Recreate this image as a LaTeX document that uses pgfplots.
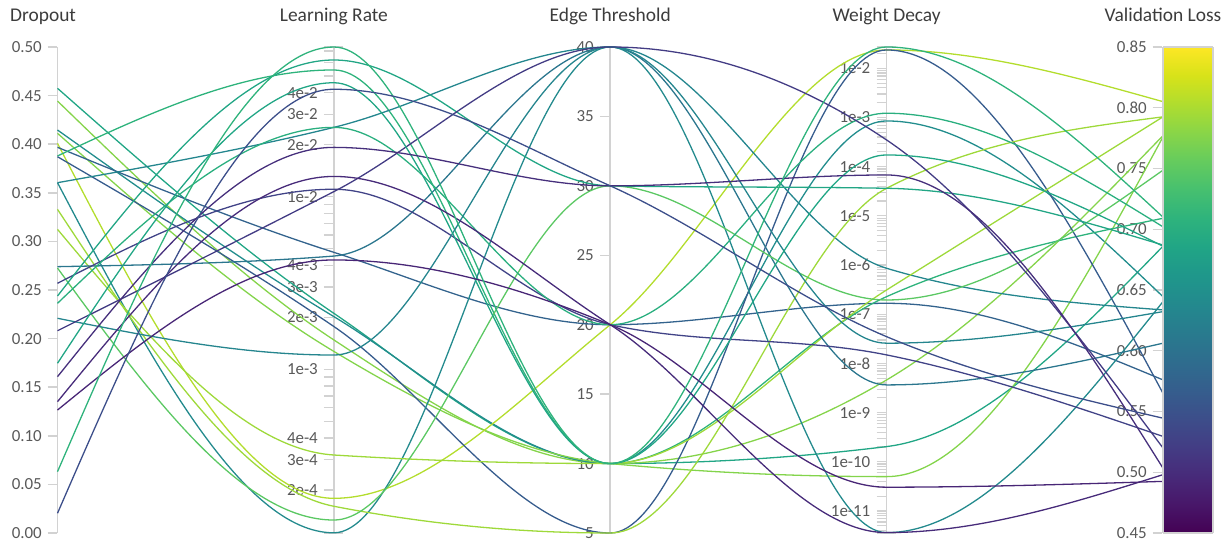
\documentclass[border=0pt]{standalone}
\usepackage{pgfplots}
\pgfplotsset{compat=1.18}
\usepackage{pgfplotstable}
\usepackage{fontspec}
\setmainfont{Carlito}

\definecolor{tickgray}{HTML}{595959}
\definecolor{titlegray}{HTML}{3C3C3C}
\definecolor{axisgray}{HTML}{D2D2D2}
\newcommand\ticksize{\fontsize{17}{19}\selectfont}
\newcommand\titlesize{\fontsize{19.5}{22}\selectfont}

% ---------- monotone-x curve plot handler (like d3.curveMonotoneX) ----------
\makeatletter
\newcount\mono@n
\def\mono@cs#1#2{\csname mono@#1#2\endcsname}
\def\mono@start{\global\mono@n=0\relax}
\def\mono@point#1{%
  \pgf@process{#1}%
  \global\advance\mono@n by 1\relax
  \expandafter\xdef\csname mono@x\the\mono@n\endcsname{\pgf@sys@tonumber\pgf@x}%
  \expandafter\xdef\csname mono@y\the\mono@n\endcsname{\pgf@sys@tonumber\pgf@y}%
}
\def\mono@end{\ifnum\mono@n>2\relax\mono@compute\fi}
\def\mono@compute{%
  \pgfmathtruncatemacro\mono@Nm{\the\mono@n-1}%
  \foreach \mono@i in {1,...,\mono@Nm}{%
    \pgfmathtruncatemacro\mono@j{\mono@i+1}%
    \pgfmathsetmacro\mono@hh{(\mono@cs{x}{\mono@j})-(\mono@cs{x}{\mono@i})}%
    \pgfmathsetmacro\mono@ss{((\mono@cs{y}{\mono@j})-(\mono@cs{y}{\mono@i}))/\mono@hh}%
    \expandafter\xdef\csname mono@h\mono@i\endcsname{\mono@hh}%
    \expandafter\xdef\csname mono@s\mono@i\endcsname{\mono@ss}%
  }%
  \foreach \mono@i in {2,...,\mono@Nm}{%
    \pgfmathtruncatemacro\mono@k{\mono@i-1}%
    \edef\mono@sa{\mono@cs{s}{\mono@k}}%
    \edef\mono@sb{\mono@cs{s}{\mono@i}}%
    \edef\mono@ha{\mono@cs{h}{\mono@k}}%
    \edef\mono@hb{\mono@cs{h}{\mono@i}}%
    \pgfmathsetmacro\mono@p{((\mono@sa)*(\mono@hb)+(\mono@sb)*(\mono@ha))/((\mono@ha)+(\mono@hb))}%
    \pgfmathsetmacro\mono@tv{(sign(\mono@sa)+sign(\mono@sb))*min(abs(\mono@sa),abs(\mono@sb),0.5*abs(\mono@p))}%
    \expandafter\xdef\csname mono@t\mono@i\endcsname{\mono@tv}%
  }%
  \pgfmathsetmacro\mono@tv{(3*(\mono@cs{s}{1})-(\mono@cs{t}{2}))/2}%
  \expandafter\xdef\csname mono@t1\endcsname{\mono@tv}%
  \pgfmathsetmacro\mono@tv{(3*(\mono@cs{s}{\mono@Nm})-(\mono@cs{t}{\mono@Nm}))/2}%
  \expandafter\xdef\csname mono@t\the\mono@n\endcsname{\mono@tv}%
  \xdef\mono@path{\noexpand\pgfpathmoveto{\noexpand\pgfqpoint{\mono@cs{x}{1}pt}{\mono@cs{y}{1}pt}}}%
  \foreach \mono@i in {1,...,\mono@Nm}{%
    \pgfmathtruncatemacro\mono@j{\mono@i+1}%
    \pgfmathsetmacro\mono@d{(\mono@cs{h}{\mono@i})/3}%
    \pgfmathsetmacro\mono@ax{(\mono@cs{x}{\mono@i})+\mono@d}%
    \pgfmathsetmacro\mono@ay{(\mono@cs{y}{\mono@i})+\mono@d*(\mono@cs{t}{\mono@i})}%
    \pgfmathsetmacro\mono@bx{(\mono@cs{x}{\mono@j})-\mono@d}%
    \pgfmathsetmacro\mono@by{(\mono@cs{y}{\mono@j})-\mono@d*(\mono@cs{t}{\mono@j})}%
    \xdef\mono@path{\unexpanded\expandafter{\mono@path}\noexpand\pgfpathcurveto{\noexpand\pgfqpoint{\mono@ax pt}{\mono@ay pt}}{\noexpand\pgfqpoint{\mono@bx pt}{\mono@by pt}}{\noexpand\pgfqpoint{\mono@cs{x}{\mono@j}pt}{\mono@cs{y}{\mono@j}pt}}}%
  }%
  \mono@path
}
\pgfdeclareplothandler{\pgfplothandlermonotone}{}{%
  start macro=\mono@start,
  point macro=\mono@point,
  end macro=\mono@end,
}
\tikzset{monotone/.code={\let\tikz@plot@handler=\pgfplothandlermonotone}}
\makeatother

% ---------- data: one row per run ----------
% do = dropout, lr = learning rate, et = edge threshold, wd = weight decay, vl = validation loss
\pgfplotstableread{
do      lr        et  wd        vl
0.4575  2.11e-3   10  2.04e-10  0.686
0.4444  1.48e-3   10  4.62e-9   0.777
0.4146  2.02e-3   10  8.5e-4    0.6445
0.4112  1.27e-3   10  5.0e-11   0.776
0.4009  1.79e-4   20  2.36e-2   0.805
0.3968  4.76e-3   20  1.67e-7   0.576
0.3879  5.42e-2   10  2.28e-7   0.709
0.3871  1.77e-3   5   2.36e-2   0.565
0.3604  2.52e-2   40  8.6e-7    0.6336
0.3604  1.13e-4   40  3.64e-12  0.6404
0.3330  1.61e-4   5   3.64e-5   0.7925
0.3124  3.19e-4   10  3.12e-7   0.7925
0.2740  4.53e-3   40  3.66e-9   0.6062
0.2726  1.34e-4   30  1.95e-7   0.7486
0.2569  1.104e-2  20  1.49e-8   0.5295
0.2438  6.19e-2   30  3.64e-5   0.687
0.2363  2.52e-2   20  1.22e-3   0.702
0.2209  1.21e-3   40  2.58e-8   0.6322
0.2081  1.07e-2   40  3.49e-4   0.520
0.1746  4.57e-2   10  1.73e-4   0.686
0.1608  1.93e-2   30  6.78e-5   0.5034
0.1351  1.31e-2   20  3.64e-12  0.498
0.1265  4.30e-3   20  3.05e-11  0.4925
0.0631  7.36e-2   10  2.71e-2   0.710
0.0203  4.19e-2   30  3.5e-8    0.5445
}\runs

\begin{document}
\begin{tikzpicture}
\useasboundingbox (0,0) rectangle (1231bp,544bp);

\begin{scope}[x=1bp,y=1bp]
  % axis lines
  \foreach \ax in {57.5,333.875,610.25,886.625}{
    \draw[axisgray, line width=1.6] (\ax,11) -- (\ax,497);
  }
  % titles
  \begin{scope}[every node/.style={anchor=base, text=titlegray, font=\titlesize, inner sep=0}]
    \node[anchor=base west] at (10,522) {Dropout};
    \node at (333.875,522) {Learning Rate};
    \node at (610.25,522) {Edge Threshold};
    \node at (886.625,522) {Weight Decay};
    \node at (1163,522) {Validation Loss};
  \end{scope}
  % Dropout ticks
  \foreach \n/\lab in {0/0.00,0.1/0.05,0.2/0.10,0.3/0.15,0.4/0.20,0.5/0.25,0.6/0.30,0.7/0.35,0.8/0.40,0.9/0.45,1/0.50}{
    \draw[axisgray, line width=1.5] (47.5,{11+486*\n}) -- (56.5,{11+486*\n});
    \node[anchor=east, inner sep=0, text=tickgray, font=\ticksize] at (42,{11+486*\n}) {\lab};
  }
  % Learning rate ticks (log)
  \foreach \m/\e/\lab in {2/-4/2e-4,3/-4/3e-4,4/-4/4e-4,1/-3/1e-3,2/-3/2e-3,3/-3/3e-3,4/-3/4e-3,1/-2/1e-2,2/-2/2e-2,3/-2/3e-2,4/-2/4e-2}{
    \pgfmathsetmacro\nn{(log10(\m)+\e+3.948)/2.815}
    \draw[axisgray, line width=1.5] (323.875,{11+486*\nn}) -- (332.875,{11+486*\nn});
    \node[anchor=east, inner sep=0, text=tickgray, font=\ticksize] at (318,{11+486*\nn}) {\lab};
  }
  \foreach \m/\e in {5/-4,6/-4,7/-4,8/-4,9/-4,5/-3,6/-3,7/-3,8/-3,9/-3,5/-2,6/-2,7/-2}{
    \pgfmathsetmacro\nn{(log10(\m)+\e+3.948)/2.815}
    \draw[axisgray, line width=1.5] (323.875,{11+486*\nn}) -- (332.875,{11+486*\nn});
  }
  \draw[axisgray, line width=1.5] (323.875,11) -- (342.875,11);
  \draw[axisgray, line width=1.5] (323.875,497) -- (342.875,497);
  % Edge threshold ticks
  \foreach \v in {5,10,...,40}{
    \pgfmathsetmacro\nn{(\v-5)/35}
    \draw[axisgray, line width=1.5] (600.25,{11+486*\nn}) -- (609.25,{11+486*\nn});
    \node[anchor=east, inner sep=0, text=tickgray, font=\ticksize] at (594,{11+486*\nn}) {\v};
  }
  % Weight decay ticks (log)
  \foreach \e in {-12,...,-2}{
    \foreach \m in {1,...,9}{
      \pgfmathsetmacro\nn{(\e+log10(\m)+11.447)/9.88}
      \ifdim\nn pt>0pt\relax\ifdim\nn pt<1pt\relax
        \draw[axisgray, line width=1.2] (876.625,{11+486*\nn}) -- (885.625,{11+486*\nn});
        \ifnum\m=1\relax
          \node[anchor=east, inner sep=0, text=tickgray, font=\ticksize] at (870.5,{11+486*\nn}) {1e\e};
        \fi
      \fi\fi
    }
  }
  \draw[axisgray, line width=1.5] (876.625,11) -- (895.625,11);
  \draw[axisgray, line width=1.5] (876.625,497) -- (895.625,497);
  % Validation loss ticks
  \foreach \n/\lab in {0/0.45,0.125/0.50,0.25/0.55,0.375/0.60,0.5/0.65,0.625/0.70,0.75/0.75,0.875/0.80,1/0.85}{
    \draw[axisgray, line width=1.5] (1152.5,{11+486*\n}) -- (1162,{11+486*\n});
    \node[anchor=east, inner sep=0, text=tickgray, font=\ticksize] at (1147,{11+486*\n}) {\lab};
  }
\end{scope}

\begin{axis}[
  at={(57.5bp,11bp)}, anchor=south west,
  scale only axis, width=1105.5bp, height=486bp,
  xmin=0, xmax=4, ymin=0, ymax=1,
  hide axis, clip=false,
  colormap/viridis,
]
\pgfplotstablegetrowsof{\runs}
\pgfmathtruncatemacro\lastrow{\pgfplotsretval-1}
\pgfplotsforeachungrouped \r in {0,...,\lastrow}{%
  \pgfplotstablegetelem{\r}{do}\of\runs \let\vdo\pgfplotsretval
  \pgfplotstablegetelem{\r}{lr}\of\runs \let\vlr\pgfplotsretval
  \pgfplotstablegetelem{\r}{et}\of\runs \let\vet\pgfplotsretval
  \pgfplotstablegetelem{\r}{wd}\of\runs \let\vwd\pgfplotsretval
  \pgfplotstablegetelem{\r}{vl}\of\runs \let\vvl\pgfplotsretval
  \pgfmathsetmacro\ydo{\vdo/0.5}%
  \pgfmathsetmacro\yet{(\vet-5)/35}%
  \pgfmathsetmacro\yvl{(\vvl-0.45)/0.4}%
  \pgfmathsetmacro\cval{(\vvl-0.45)/0.4*1000}%
  \begingroup
    \pgfkeys{/pgf/fpu=true,/pgf/fpu/output format=fixed}%
    \pgfmathparse{(ln(\vlr)/ln(10)+3.948)/2.815}\xdef\ylr{\pgfmathresult}%
    \pgfmathparse{(ln(\vwd)/ln(10)+11.447)/9.88}\xdef\ywd{\pgfmathresult}%
  \endgroup
  \pgfplotscolormapdefinemappedcolor{\cval}%
  \colorlet{lc\r}{mapped color}%
  \edef\temp{\noexpand\addplot[monotone, draw=lc\r, line width=1.3pt] coordinates {(0,\ydo) (1,\ylr) (2,\yet) (3,\ywd) (4,\yvl)};}%
  \temp
}
\end{axis}

% colour scale of the validation loss
\begin{axis}[
  at={(1163bp,11bp)}, anchor=south west,
  scale only axis, width=50bp, height=486bp,
  xmin=0, xmax=1, ymin=0.45, ymax=0.85,
  view={0}{90},
  colormap/viridis, point meta min=0.45, point meta max=0.85,
  xtick=\empty, ytick=\empty, ztick=\empty,
  axis line style={draw=axisgray, line width=1.5bp},
  axis on top,
]
\addplot3[surf, shader=interp, point meta=y] coordinates {
(0,0.45,0) (1,0.45,0)

(0,0.85,0) (1,0.85,0)
};
\end{axis}
\end{tikzpicture}
\end{document}
